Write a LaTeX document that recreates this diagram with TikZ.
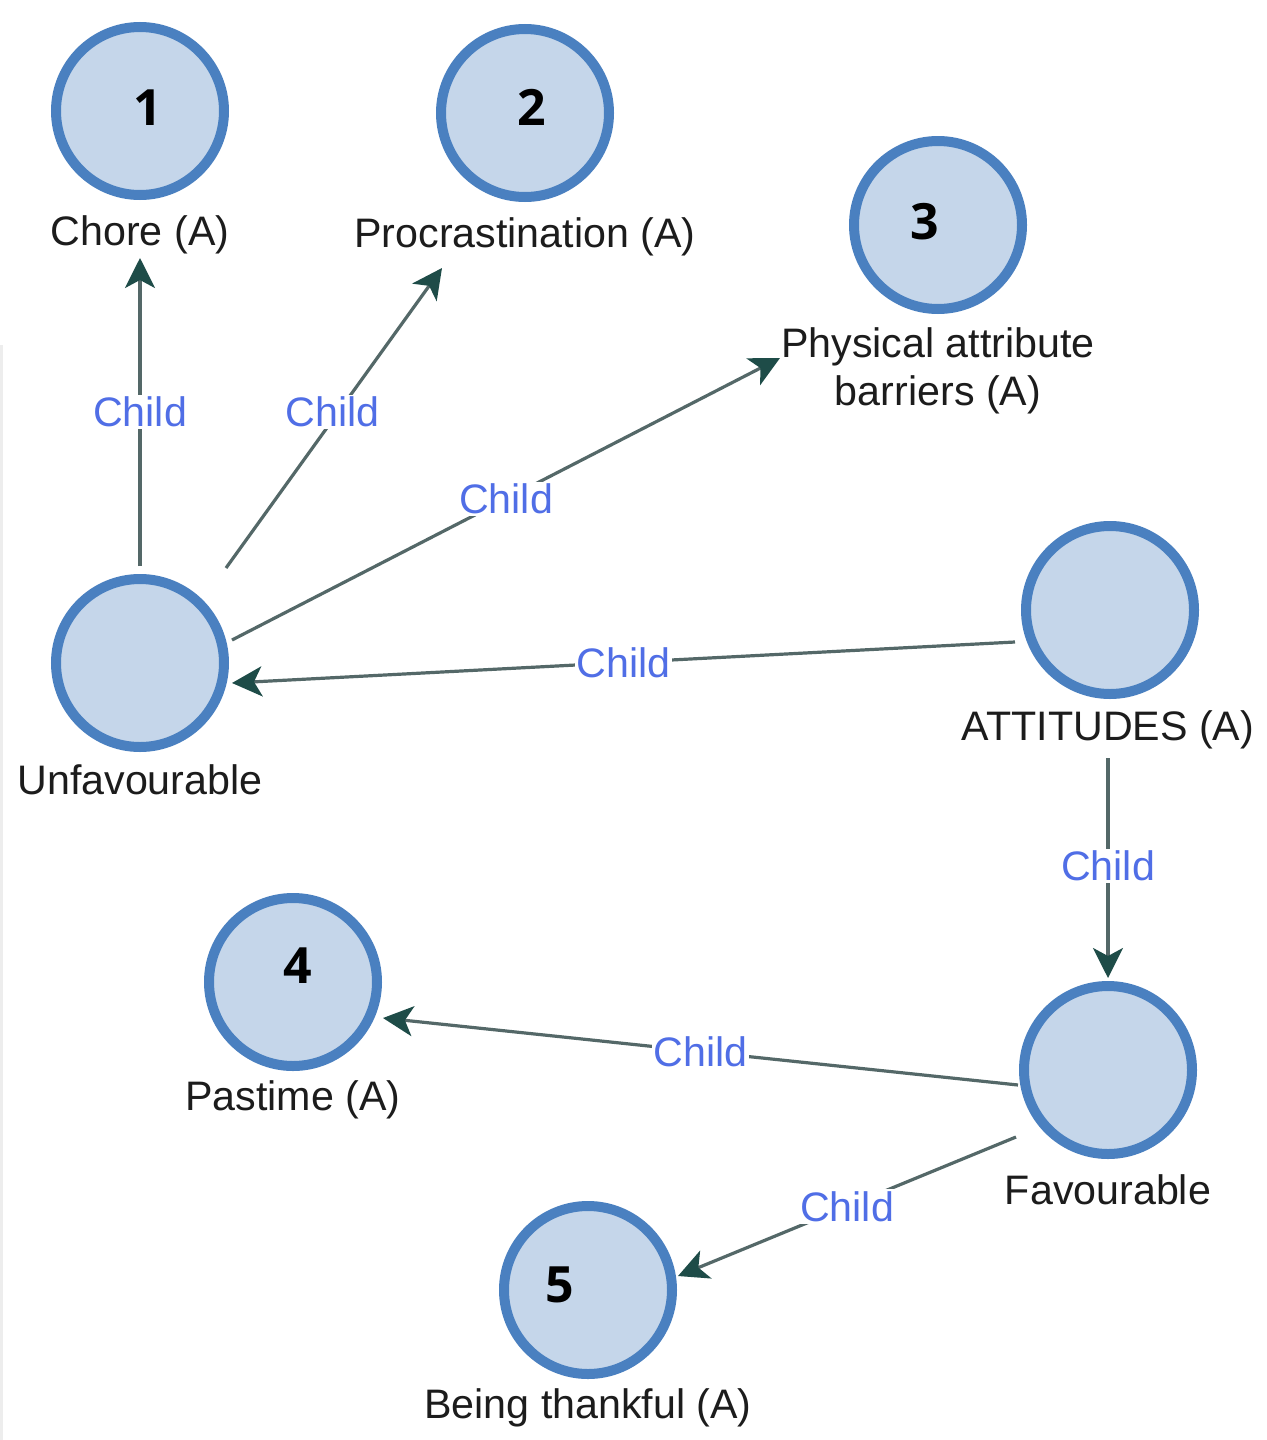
\documentclass[tikz,border=0pt]{standalone}
\usepackage{fontspec}
\setmainfont{Liberation Sans}
\newfontfamily\numfont{Open Sans}
\usetikzlibrary{arrows.meta,calc}
\definecolor{ringc}{RGB}{74,128,192}
\definecolor{fillc}{RGB}{197,214,234}
\definecolor{linec}{RGB}{84,104,104}
\definecolor{tipc}{RGB}{30,76,72}
\definecolor{childc}{RGB}{80,110,230}
\definecolor{textc}{RGB}{28,28,28}
\tikzset{
  circ/.style={circle,draw=ringc,fill=fillc,line width=5pt,minimum size=84pt,inner sep=0pt},
  num/.style={font=\numfont\bfseries\fontsize{25pt}{30pt}\selectfont,text=black,inner sep=0pt},
  lab/.style={font=\fontsize{20.6pt}{24pt}\selectfont,text=textc,align=center,inner sep=1pt},
  childlab/.style={font=\fontsize{20.6pt}{24pt}\selectfont,text=childc,fill=white,inner sep=1pt},
  edge/.style={draw=linec,line width=1.6pt,-{Stealth[length=15pt,width=15pt,inset=4pt,color=tipc]}}
}
\begin{document}
\begin{tikzpicture}[x=0.5pt,y=-0.5pt]
\useasboundingbox (0,0) rectangle (1267,1440);
\fill[white] (0,0) rectangle (1267,1440);
\fill[black!7] (0,345) rectangle (3,1440);
% circles
\node[circ] (c1) at (140,111) {};
\node[circ] (c2) at (525,113) {};
\node[circ] (c3) at (938,225) {};
\node[circ] (unf) at (140,663) {};
\node[circ] (att) at (1110,610) {};
\node[circ] (fav) at (1108,1070) {};
\node[circ] (c4) at (293,982) {};
\node[circ] (c5) at (588,1290) {};
% numbers
\node[num] (n1) at (148,108) {1};
\node[num] (n2) at (532,107) {2};
\node[num] (n3) at (925,222) {3};
\node[num] (n4) at (298,966) {4};
\node[num] (n5) at (560,1285) {5};
% labels
\node[lab] (l1) at (140,235) {Chore (A)};
\node[lab] (l2) at (525,237) {Procrastination (A)};
\node[lab] (l3) at (938,371) {Physical attribute\\barriers (A)};
\node[lab] (lunf) at (140,780) {Unfavourable};
\node[lab] (latt) at (1108,730) {ATTITUDES (A)};
\node[lab] (lfav) at (1108,1190) {Favourable};
\node[lab] (l4) at (293,1100) {Pastime (A)};
\node[lab] (l5) at (588,1408) {Being thankful (A)};
% connectors
\draw[edge] ($(unf)+(0,-97)$) -- node[childlab,pos=0.5]{Child} ($(l1)+(0,23)$);
\draw[edge] ($(unf)+(86,-95)$) -- node[childlab,pos=0.52,xshift=-3pt]{Child} ($(l2)+(-83,31)$);
\draw[edge] ($(unf)+(92,-23)$) -- node[childlab,pos=0.5]{Child} ($(l3)+(-158,-13)$);
\draw[edge] ($(att)+(-95,32)$) -- node[childlab,pos=0.5]{Child} ($(unf)+(92,20)$);
\draw[edge] ($(latt)+(0,28)$) -- node[childlab,pos=0.49]{Child} ($(fav)+(0,-92)$);
\draw[edge] ($(fav)+(-90,15)$) -- node[childlab,pos=0.5]{Child} ($(c4)+(90,36)$);
\draw[edge] ($(fav)+(-92,67)$) -- node[childlab,pos=0.5]{Child} ($(c5)+(90,-14)$);
\end{tikzpicture}
\end{document}
